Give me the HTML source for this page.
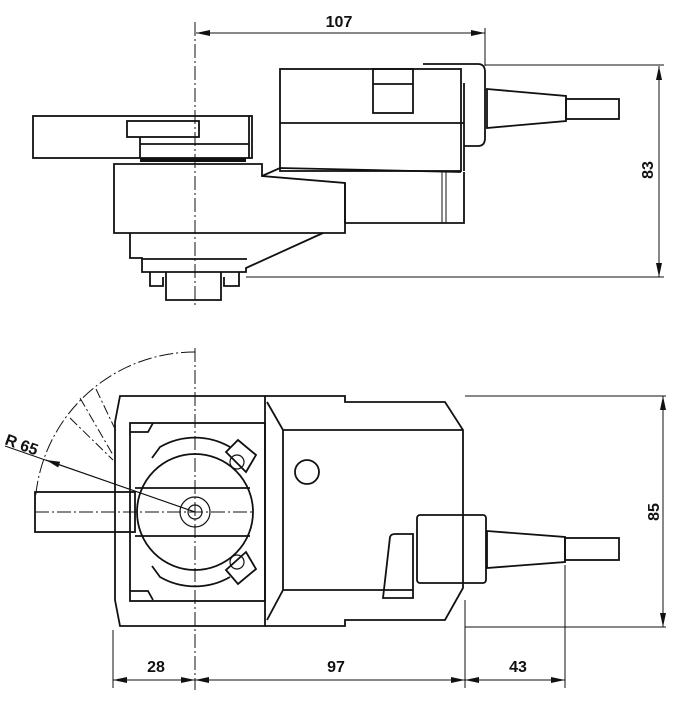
<!DOCTYPE html>
<html><head><style>body{margin:0;background:#fff}svg{display:block}text{font-family:"Liberation Sans",sans-serif;font-weight:bold;font-size:16px;fill:#111}</style></head>
<body>
<svg width="685" height="704" viewBox="0 0 685 704" xmlns="http://www.w3.org/2000/svg">
<defs><marker id="a" viewBox="0 0 14 6" refX="14" refY="3" markerWidth="14" markerHeight="6" orient="auto-start-reverse" markerUnits="userSpaceOnUse" preserveAspectRatio="none"><path d="M0,0L14,3L0,6z" fill="#111"/></marker></defs>
<g fill="none" stroke="#111" stroke-width="1">
<!-- TOP VIEW dims -->
<line x1="195" y1="22" x2="195" y2="305" stroke-dasharray="14,3,2,3"/>
<line x1="196" y1="33" x2="485" y2="33" marker-start="url(#a)" marker-end="url(#a)"/>
<line x1="485" y1="28" x2="485" y2="66"/>
<line x1="485" y1="65" x2="664" y2="65"/>
<line x1="246" y1="277" x2="664" y2="277"/>
<line x1="659" y1="66" x2="659" y2="277" marker-start="url(#a)" marker-end="url(#a)"/>
</g>
<g fill="none" stroke="#111" stroke-width="1.8">
<rect x="33" y="116" width="219" height="42"/>
<rect x="127" y="121" width="72" height="16"/>
<line x1="140" y1="137" x2="140" y2="158"/><line x1="140" y1="144" x2="249" y2="144"/>
<line x1="249" y1="116" x2="249" y2="158"/>
<path d="M114,164 H262 V176 L345,183 V233 H114 Z"/>
<path d="M262,176 L280,168 L461,172"/>
<rect x="280" y="69" width="181" height="102"/>
<line x1="280" y1="123" x2="464" y2="123"/>
<rect x="373" y="69" width="40" height="44"/><line x1="373" y1="84" x2="413" y2="84"/>
<path d="M345,183 V223 H464 V172"/>
<line x1="442" y1="172" x2="442" y2="223" stroke-width="1"/><line x1="446" y1="172" x2="446" y2="223" stroke-width="1"/>
<line x1="464" y1="83" x2="464" y2="171"/>
<path d="M423,64 H478 Q485,64 485,72 V138 Q485,146 478,146 H464"/>
<path d="M487,89 L566,96 V121 L487,128 Z"/>
<rect x="566" y="99" width="53" height="20"/>
<path d="M130,233 V258 H142 V272 H246 V268 L323,233"/>
<line x1="142" y1="259" x2="247" y2="259"/>
<path d="M150,272 V286 H163 V277 M166,272 V300 H221 V272 M224,277 V286 H239 V272"/>
</g>
<rect x="140" y="158" width="106" height="4" fill="#111"/>
<text transform="translate(653,170) rotate(-90)" text-anchor="middle">83</text>
<text x="339" y="27" text-anchor="middle">107</text>

<!-- BOTTOM VIEW -->
<g fill="none" stroke="#111" stroke-width="1">
<line x1="195" y1="348" x2="195" y2="690" stroke-dasharray="14,3,2,3"/>
<line x1="35" y1="512" x2="255" y2="512" stroke-dasharray="14,3,2,3"/>
<path d="M195,352 A160,160 0 0 0 35,505" stroke-dasharray="14,3,2,3"/>
<line x1="96" y1="389" x2="116" y2="431" stroke-dasharray="10,3,2,3"/>
<line x1="80" y1="398" x2="113" y2="455" stroke-dasharray="10,3,2,3"/>
<line x1="70" y1="418" x2="113" y2="460" stroke-dasharray="10,3,2,3"/>
<line x1="5" y1="446" x2="195" y2="512"/>
<line x1="195" y1="512" x2="46" y2="460" marker-end="url(#a)"/>
<line x1="465" y1="396" x2="666" y2="396"/>
<line x1="465" y1="627" x2="666" y2="627"/>
<line x1="663" y1="396" x2="663" y2="627" marker-start="url(#a)" marker-end="url(#a)"/>
<line x1="113" y1="630" x2="113" y2="688"/>
<line x1="465" y1="600" x2="465" y2="688"/>
<line x1="565" y1="565" x2="565" y2="688"/>
<line x1="113" y1="680" x2="195" y2="680" marker-start="url(#a)" marker-end="url(#a)"/>
<line x1="195" y1="680" x2="465" y2="680" marker-start="url(#a)" marker-end="url(#a)"/>
<line x1="465" y1="680" x2="565" y2="680" marker-start="url(#a)" marker-end="url(#a)"/>
</g>
<g fill="none" stroke="#111" stroke-width="1.8">
<path d="M120,396 H265 V626 H120 L115,600 V422 Z"/>
<rect x="130" y="423" width="135" height="178"/>
<path d="M130,432 H148 L153,423 M130,591 H148 L153,600"/>
<circle cx="195" cy="512" r="58"/>
<path d="M152,458 L160,447 A70,70 0 0 1 230,447 M152,566 L160,577 A70,70 0 0 0 230,577"/>
<rect x="35" y="492" width="100" height="40"/>
<line x1="135" y1="488" x2="250" y2="488"/><line x1="135" y1="536" x2="250" y2="536"/>
<circle cx="195" cy="512" r="15" stroke-width="1.2"/><circle cx="195" cy="512" r="7" stroke-width="1.2"/>
<path d="M226,452 L238,440 L256,455 L246,472 Z"/><circle cx="237" cy="462" r="7" stroke-width="1.2"/>
<path d="M226,570 L238,584 L256,569 L246,552 Z"/><circle cx="237" cy="562" r="7" stroke-width="1.2"/>
<path d="M265,396 H345 V402 H445 L463,430 V588 L445,620 H345 V626 H265"/>
<path d="M267,402 L283,430 H463 M283,430 V590 L267,620 M283,590 H413"/>
<circle cx="307" cy="472" r="12"/>
<path d="M383,598 L390,537 Q391,534 395,534 H413 V598 Z"/>
<rect x="417" y="515" width="69" height="68" rx="3"/>
<path d="M487,531 L565,537 V562 L487,568 Z"/>
<rect x="565" y="538" width="54" height="22"/>
</g>
<text transform="translate(4,444) rotate(20)">R 65</text>
<text transform="translate(659,512) rotate(-90)" text-anchor="middle">85</text>
<text x="156" y="672" text-anchor="middle">28</text>
<text x="336" y="672" text-anchor="middle">97</text>
<text x="518" y="672" text-anchor="middle">43</text>
</svg>
</body></html>
